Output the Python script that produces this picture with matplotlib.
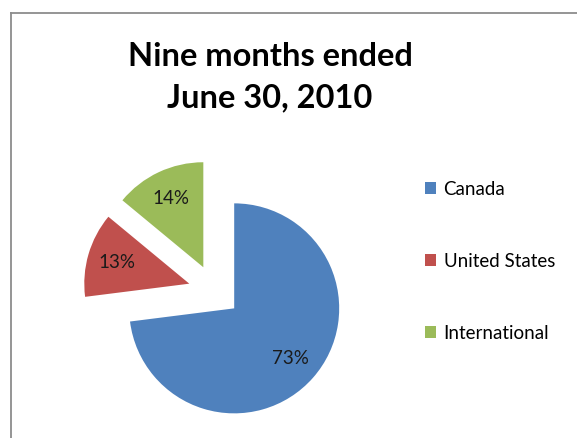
import matplotlib.pyplot as plt
from matplotlib.lines import Line2D
from matplotlib.patches import Patch

# data
labels = ['Canada', 'United States', 'International']
shares = [73, 13, 14]
colors = ['#4F81BD', '#C0504D', '#9BBB59']
title = 'Nine months ended\nJune 30, 2010'

W, H = 577, 438
fig = plt.figure(figsize=(W / 100, H / 100), dpi=100)

# pie centre (px from top-left) and radius in px
cx, cy, r = 214.5, 291.0, 105.0
ax = fig.add_axes([0, 0, 1, 1])

wedges, texts, autotexts = ax.pie(
    shares, colors=colors, startangle=90, counterclock=False,
    explode=[0.25, 0.25, 0.25], autopct='%d%%', pctdistance=0.72,
    wedgeprops=dict(linewidth=0), textprops=dict(fontsize=13.5, family='Lato', color='#1a1a1a'),
    frame=True)
ax.set_xlim(-cx / r, (W - cx) / r)
ax.set_ylim(-(H - cy) / r, cy / r)
ax.axis('off')

fig.text(270 / W, 1 - 77.5 / H, title, ha='center', va='center',
         fontsize=23.5, fontweight='bold', family='Lato', linespacing=1.5)

# legend
handles = [Patch(facecolor=c, edgecolor='none') for c in colors]
leg = fig.legend(handles, labels, loc='upper left', bbox_to_anchor=(408 / W, 1 - 164 / H),
                 frameon=False, prop=dict(family='Lato', size=13.5),
                 handlelength=0.6, handleheight=0.6, handletextpad=0.4,
                 labelspacing=2.93)

# outer frame (left and top only visible)
fig.add_artist(Line2D([10.5 / W, 10.5 / W], [0, 1 - 12.5 / H], color='#8c8c8c', lw=1.3))
fig.add_artist(Line2D([10.5 / W, 1], [1 - 12.5 / H, 1 - 12.5 / H], color='#8c8c8c', lw=1.3))

fig.savefig('out.png', dpi=100)
